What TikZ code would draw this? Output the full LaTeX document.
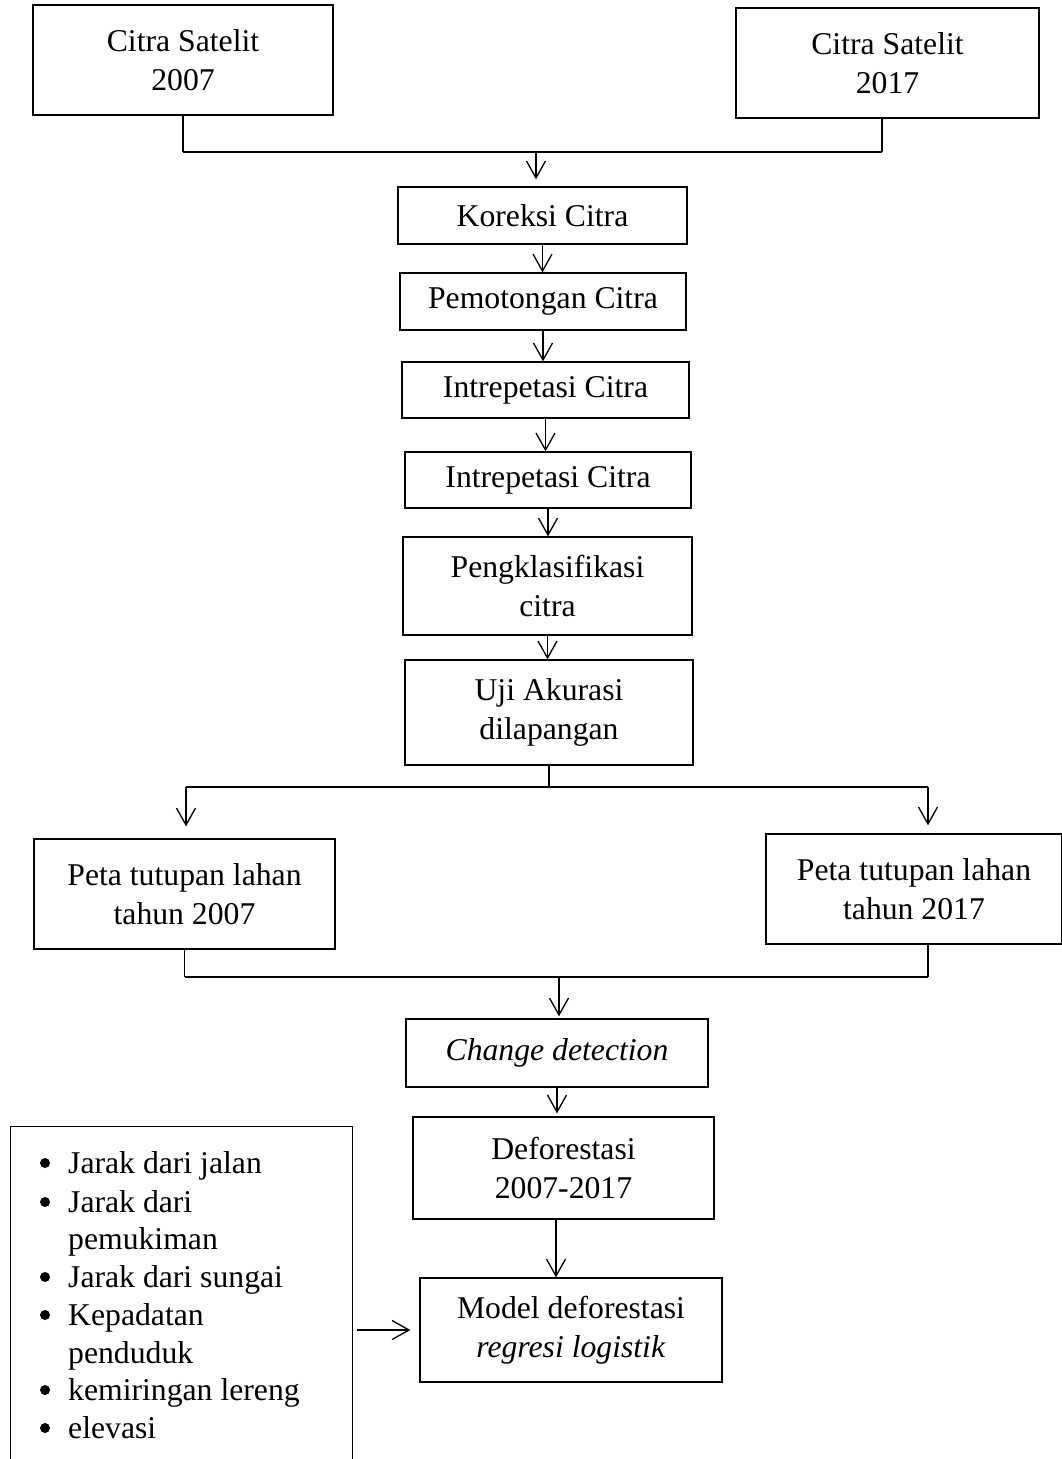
\documentclass[tikz,border=0pt]{standalone}
\usepackage{fontspec}
\setmainfont{Liberation Serif}
\usetikzlibrary{arrows.meta,calc}
\begin{document}
\begin{tikzpicture}[x=1pt,y=-1pt,
  txt/.style={font=\fontsize{31.7}{39}\selectfont},
  box/.style={draw, line width=1.3pt, align=center, inner sep=0pt, txt},
  ln/.style={line width=1.3pt},
  jn/.style={line width=2pt},
  bul/.style={circle, fill, inner sep=0pt, minimum size=10pt},
  arr/.style={line width=1.3pt, -{Straight Barb[length=17pt,width=19pt,line width=1.3pt]}}
]
\useasboundingbox (0,0) rectangle (1062,1459);

% boxes
\node[box, minimum width=300pt, minimum height=110pt] (s07) at (183,60) {Citra Satelit\\2007};
\node[box, minimum width=303pt, minimum height=110pt] (s17) at (887.5,63) {Citra Satelit\\2017};
\node[box, minimum width=289pt, minimum height=57pt] (kor) at (542.5,215.5) {Koreksi Citra};
\node[box, minimum width=286pt, minimum height=57pt] (pem) at (543,301.5) {Pemotongan Citra};
\node[box, minimum width=287pt, minimum height=56pt] (int1) at (545.5,390) {Intrepetasi Citra};
\node[box, minimum width=286pt, minimum height=56pt] (int2) at (548,480) {Intrepetasi Citra};
\node[box, minimum width=289pt, minimum height=98pt] (kla) at (547.5,586) {Pengklasifikasi\\citra};
\node[box, minimum width=288pt, minimum height=105pt] (uji) at (549,712.5) {Uji Akurasi\\dilapangan};
\node[box, minimum width=301pt, minimum height=110pt] (p07) at (184.5,894) {Peta tutupan lahan\\tahun 2007};
\node[box, minimum width=296pt, minimum height=110pt] (p17) at (914,889) {Peta tutupan lahan\\tahun 2017};
\node[box, minimum width=302pt, minimum height=68pt] (chg) at (557,1053) {\itshape Change detection};
\node[box, minimum width=301pt, minimum height=102pt] (def) at (563.5,1168) {Deforestasi\\2007-2017};
\node[box, minimum width=302pt, minimum height=104pt] (mod) at (571,1330) {Model deforestasi\\\textit{regresi logistik}};

% factor box (open at bottom)
\node[minimum width=341pt, minimum height=340pt, inner sep=0pt] (fac) at (181.5,1297) {};
\draw[line width=1.1pt] (fac.south west) -- (fac.north west) -- (fac.north east) -- (fac.south east);

\node[bul] (b1) at (45,1163) {};
\node[bul] (b2) at (45,1202) {};
\node[bul] (b4) at (45,1277) {};
\node[bul] (b5) at (45,1315) {};
\node[bul] (b7) at (45,1390) {};
\node[bul] (b8) at (45,1428) {};
\node[txt, anchor=base west, inner sep=0pt] (t1) at (68,1173) {Jarak dari jalan};
\node[txt, anchor=base west, inner sep=0pt] (t2) at (68,1212) {Jarak dari};
\node[txt, anchor=base west, inner sep=0pt] (t3) at (68,1249) {pemukiman};
\node[txt, anchor=base west, inner sep=0pt] (t4) at (68,1287) {Jarak dari sungai};
\node[txt, anchor=base west, inner sep=0pt] (t5) at (68,1325) {Kepadatan};
\node[txt, anchor=base west, inner sep=0pt] (t6) at (68,1363) {penduduk};
\node[txt, anchor=base west, inner sep=0pt] (t7) at (68,1400) {kemiringan lereng};
\node[txt, anchor=base west, inner sep=0pt] (t8) at (68,1438) {elevasi};

% top merge
\coordinate (jt) at (536,152);
\coordinate (s17b) at ([xshift=-5.5pt]s17.south);
\draw[ln] (s07.south) -- (s07.south |- jt);
\draw[ln] (s17b) -- (s17b |- jt);
\draw[jn] (s07.south |- jt) -- (s17b |- jt);
\draw[arr, shorten >=7pt] (jt) -- (jt |- kor.north);

% chain
\draw[arr] (kor.south) -- (kor.south |- pem.north);
\draw[arr] (pem.south) -- (pem.south |- int1.north);
\draw[arr] (int1.south) -- (int1.south |- int2.north);
\draw[arr] (int2.south) -- (int2.south |- kla.north);
\draw[arr] (kla.south) -- (kla.south |- uji.north);

% split
\coordinate (js) at (549,787);
\coordinate (ja) at (186,787);
\coordinate (jb) at (928,787);
\draw[ln] (uji.south) -- (js);
\draw[jn] (ja) -- (jb);
\draw[arr, shorten >=12pt] (ja) -- (ja |- p07.north);
\draw[arr, shorten >=8pt] (jb) -- (jb |- p17.north);

% merge
\coordinate (jm) at (559,977);
\draw[ln] (p07.south) -- (p07.south |- jm);
\draw[ln] (jb |- p17.south) -- (jb |- jm);
\draw[jn] (p07.south |- jm) -- (jb |- jm);
\draw[arr, shorten >=2pt] (jm) -- (jm |- chg.north);

\draw[arr, shorten >=3pt] (chg.south) -- (chg.south |- def.north);
\coordinate (d1) at ([xshift=-7.5pt]def.south);
\draw[arr] (d1) -- (d1 |- mod.north);

\coordinate (fe) at (fac.east |- mod.west);
\draw[arr, shorten <=5pt, shorten >=9pt] (fe) -- (mod.west);
\end{tikzpicture}
\end{document}
